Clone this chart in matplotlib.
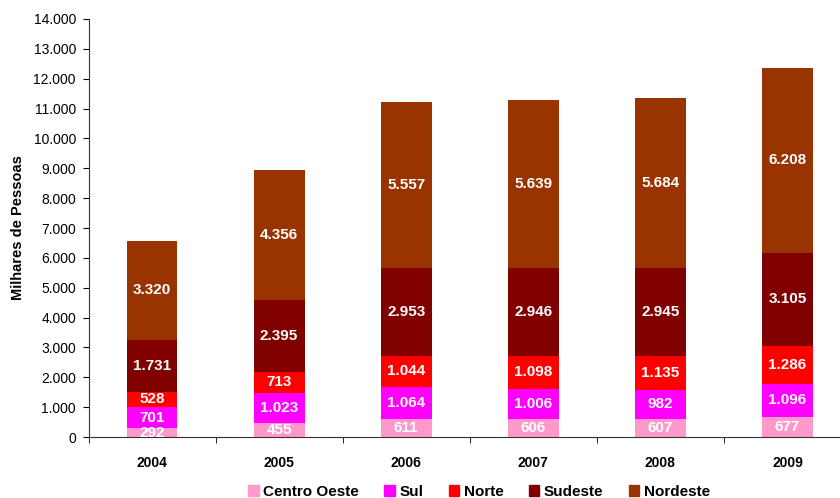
import matplotlib
matplotlib.use('Agg')
import matplotlib.pyplot as plt
import matplotlib.patches as mpatches
import numpy as np

plt.rcParams['font.family'] = ['Liberation Sans', 'DejaVu Sans']

anos = ['2004', '2005', '2006', '2007', '2008', '2009']
centro_oeste = [292, 455, 611, 606, 607, 677]
sul = [701, 1023, 1064, 1006, 982, 1096]
norte = [528, 713, 1044, 1098, 1135, 1286]
sudeste = [1731, 2395, 2953, 2946, 2945, 3105]
nordeste = [3320, 4356, 5557, 5639, 5684, 6208]

series = [('Centro Oeste', centro_oeste, '#FF99CC'),
          ('Sul', sul, '#FF00FF'),
          ('Norte', norte, '#FF0000'),
          ('Sudeste', sudeste, '#800000'),
          ('Nordeste', nordeste, '#993300')]

def fmt(v):
    return '{:,}'.format(v).replace(',', '.')

fig = plt.figure(figsize=(8.4, 4.98), dpi=100)
ax = fig.add_axes([88.5 / 840, 1 - 437 / 498, (851 - 88.5) / 840, (437 - 19) / 498])

x = np.arange(len(anos))
bottom = np.zeros(len(anos))
handles = []
for name, vals, color in series:
    vals = np.array(vals)
    ax.bar(x, vals, width=0.4, bottom=bottom, color=color, edgecolor='none', zorder=2)
    for xi, b, v in zip(x, bottom, vals):
        ax.text(xi, b + v / 2, fmt(v), ha='center', va='center', color='white',
                fontsize=11, fontweight='bold', zorder=3)
    bottom += vals
    handles.append(mpatches.Patch(color=color, label=name))

ax.set_xlim(-0.5, 5.5)
ax.set_ylim(0, 14000)
ax.set_yticks(np.arange(0, 14001, 1000))
ax.set_yticklabels([fmt(v) for v in range(0, 14001, 1000)], fontsize=10)
ax.set_xticks(x)
ax.set_xticklabels(anos, fontsize=10, fontweight='bold')
ax.set_xticks(np.arange(-0.5, 6, 1), minor=True)
ax.tick_params(axis='x', which='major', length=0, pad=14)
ax.tick_params(axis='x', which='minor', length=4, direction='out')
ax.tick_params(axis='y', length=4, direction='out', pad=5)
for s in ['top', 'right']:
    ax.spines[s].set_visible(False)
for s in ['left', 'bottom']:
    ax.spines[s].set_color('#333333')
ax.set_ylabel('Milhares de Pessoas', fontsize=10.5, fontweight='bold', labelpad=6)

fig.legend(handles=handles, loc='center', bbox_to_anchor=(479 / 840, 1 - 492 / 498),
           ncol=5, frameon=False, prop={'size': 11, 'weight': 'bold'},
           handlelength=0.7, handleheight=0.7, handletextpad=0.3, columnspacing=1.65,
           borderpad=0)

fig.savefig('out.png', dpi=100)
